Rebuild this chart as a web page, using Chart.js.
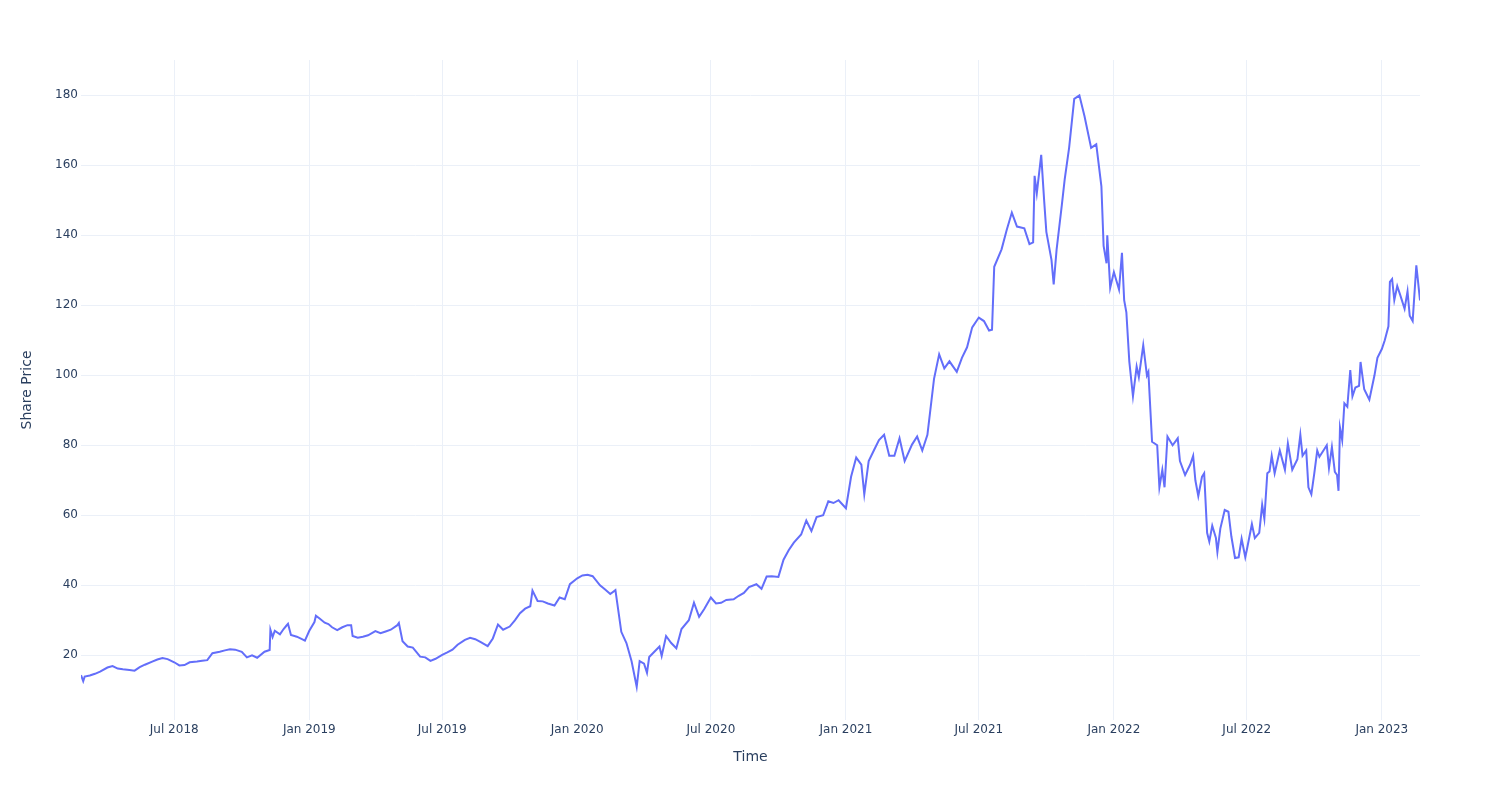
<!DOCTYPE html>
<html>
<head>
<meta charset="utf-8">
<script src="https://cdn.jsdelivr.net/npm/chart.js@4.4.0/dist/chart.umd.min.js"></script>
<style>
  html, body { margin: 0; padding: 0; background: #fff; }
</style>
</head>
<body>
<canvas id="grafico" width="1500" height="800"></canvas>
<script>
// share price, sampled roughly weekly (plus the sharp moves)
const dates = [
  "2018-02-24", "2018-02-27",
  "2018-03-01", "2018-03-08", "2018-03-15", "2018-03-22",
  "2018-04-01", "2018-04-08", "2018-04-15", "2018-04-22",
  "2018-05-01", "2018-05-08", "2018-05-15", "2018-05-22",
  "2018-06-01", "2018-06-08", "2018-06-15", "2018-06-22",
  "2018-07-01", "2018-07-08", "2018-07-15", "2018-07-22",
  "2018-08-01", "2018-08-08", "2018-08-15", "2018-08-22",
  "2018-09-01", "2018-09-08", "2018-09-15", "2018-09-22",
  "2018-10-01", "2018-10-08", "2018-10-15", "2018-10-22",
  "2018-11-01", "2018-11-08", "2018-11-09", "2018-11-12", "2018-11-15", "2018-11-22", "2018-11-27",
  "2018-12-01", "2018-12-03", "2018-12-07", "2018-12-15", "2018-12-22", "2018-12-26",
  "2019-01-01", "2019-01-08", "2019-01-10", "2019-01-15", "2019-01-22", "2019-01-27",
  "2019-02-01", "2019-02-08", "2019-02-15", "2019-02-22", "2019-02-27",
  "2019-03-01", "2019-03-08", "2019-03-15", "2019-03-22",
  "2019-04-01", "2019-04-08", "2019-04-15", "2019-04-22",
  "2019-05-01", "2019-05-03", "2019-05-08", "2019-05-15", "2019-05-22",
  "2019-06-01", "2019-06-08", "2019-06-15", "2019-06-22",
  "2019-07-01", "2019-07-08", "2019-07-15", "2019-07-22",
  "2019-08-01", "2019-08-08", "2019-08-15", "2019-08-22",
  "2019-09-01", "2019-09-08", "2019-09-15", "2019-09-22",
  "2019-10-01", "2019-10-08", "2019-10-15", "2019-10-22", "2019-10-29",
  "2019-11-01", "2019-11-08", "2019-11-15", "2019-11-22",
  "2019-12-01", "2019-12-08", "2019-12-15", "2019-12-22",
  "2020-01-01", "2020-01-08", "2020-01-15", "2020-01-22",
  "2020-02-01", "2020-02-08", "2020-02-15", "2020-02-22",
  "2020-03-01", "2020-03-08", "2020-03-15", "2020-03-22", "2020-03-26",
  "2020-04-01", "2020-04-05", "2020-04-08", "2020-04-15", "2020-04-22", "2020-04-25",
  "2020-05-01", "2020-05-08", "2020-05-15", "2020-05-22",
  "2020-06-01", "2020-06-08", "2020-06-15", "2020-06-22",
  "2020-07-01", "2020-07-08", "2020-07-15", "2020-07-22",
  "2020-08-01", "2020-08-08", "2020-08-15", "2020-08-22",
  "2020-09-01", "2020-09-08", "2020-09-15", "2020-09-22",
  "2020-10-01", "2020-10-08", "2020-10-15", "2020-10-22",
  "2020-11-01", "2020-11-08", "2020-11-15", "2020-11-22",
  "2020-12-01", "2020-12-08", "2020-12-15", "2020-12-22",
  "2021-01-01", "2021-01-08", "2021-01-15", "2021-01-22", "2021-01-26",
  "2021-02-01", "2021-02-08", "2021-02-15", "2021-02-22",
  "2021-03-01", "2021-03-08", "2021-03-15", "2021-03-22",
  "2021-04-01", "2021-04-08", "2021-04-15", "2021-04-22",
  "2021-05-01", "2021-05-08", "2021-05-15", "2021-05-22",
  "2021-06-01", "2021-06-08", "2021-06-15", "2021-06-22",
  "2021-07-01", "2021-07-08", "2021-07-15", "2021-07-19", "2021-07-22",
  "2021-08-01", "2021-08-08", "2021-08-15", "2021-08-22",
  "2021-09-01", "2021-09-08", "2021-09-13", "2021-09-15", "2021-09-18", "2021-09-24", "2021-09-28",
  "2021-10-01", "2021-10-08", "2021-10-11", "2021-10-15", "2021-10-22", "2021-10-26",
  "2021-11-01", "2021-11-08", "2021-11-15", "2021-11-22",
  "2021-12-01", "2021-12-08", "2021-12-15", "2021-12-18", "2021-12-22", "2021-12-23", "2021-12-27",
  "2022-01-01", "2022-01-08", "2022-01-12", "2022-01-15", "2022-01-18", "2022-01-22", "2022-01-27",
  "2022-02-01", "2022-02-04", "2022-02-10", "2022-02-15", "2022-02-17", "2022-02-22",
  "2022-03-01", "2022-03-04", "2022-03-08", "2022-03-11", "2022-03-15", "2022-03-22", "2022-03-29",
  "2022-04-01", "2022-04-08", "2022-04-15", "2022-04-19", "2022-04-22", "2022-04-26",
  "2022-05-01", "2022-05-04", "2022-05-08", "2022-05-11", "2022-05-15", "2022-05-20", "2022-05-22", "2022-05-26",
  "2022-06-01", "2022-06-06", "2022-06-10", "2022-06-15", "2022-06-20", "2022-06-24", "2022-06-29",
  "2022-07-01", "2022-07-08", "2022-07-12", "2022-07-18", "2022-07-22", "2022-07-25", "2022-07-29",
  "2022-08-01", "2022-08-04", "2022-08-08", "2022-08-15", "2022-08-22", "2022-08-26",
  "2022-09-01", "2022-09-08", "2022-09-12", "2022-09-15", "2022-09-20", "2022-09-23", "2022-09-27",
  "2022-10-01", "2022-10-05", "2022-10-08", "2022-10-15", "2022-10-18", "2022-10-21", "2022-10-25", "2022-10-29",
  "2022-11-01", "2022-11-03", "2022-11-05", "2022-11-08", "2022-11-11", "2022-11-15", "2022-11-19", "2022-11-22", "2022-11-26",
  "2022-12-01", "2022-12-03", "2022-12-08", "2022-12-15", "2022-12-22", "2022-12-26",
  "2023-01-01", "2023-01-05", "2023-01-10", "2023-01-12", "2023-01-15", "2023-01-18", "2023-01-22", "2023-01-26",
  "2023-02-01", "2023-02-05", "2023-02-08", "2023-02-12", "2023-02-17", "2023-02-19", "2023-02-22"
];

const price = [
  14.3, 12.6,
  13.9, 14.2, 14.7, 15.3,
  16.5, 16.9, 16.2, 16.0,
  15.8, 15.6, 16.6, 17.3,
  18.2, 18.8, 19.2, 18.9,
  18.0, 17.1, 17.2, 18.0,
  18.2, 18.4, 18.6, 20.6,
  21.0, 21.4, 21.7, 21.6,
  21.0, 19.4, 20.0, 19.3,
  21.0, 21.5, 27.3, 25.2, 27.0, 26.0, 27.5,
  28.5, 29.0, 25.8, 25.3, 24.6, 24.2,
  27.0, 29.5, 31.3, 30.5, 29.3, 28.9,
  28.0, 27.2, 28.0, 28.6, 28.6,
  25.5, 25.0, 25.3, 25.7,
  26.9, 26.3, 26.8, 27.3,
  28.6, 29.2, 24.0, 22.5, 22.2,
  19.6, 19.4, 18.4, 19.0,
  20.1, 20.8, 21.6, 23.0,
  24.4, 25.0, 24.6, 23.8,
  22.6, 24.8, 28.8, 27.3,
  28.2, 30.0, 32.0, 33.3, 34.0,
  38.5, 35.5, 35.4, 34.8,
  34.2, 36.5, 36.0, 40.3,
  42.0, 42.8, 43.0, 42.6,
  40.0, 38.8, 37.5, 38.6,
  26.7, 23.5, 18.3, 11.0, 18.3,
  17.6, 15.0, 19.5, 21.0, 22.5, 19.8,
  25.5, 23.5, 22.0, 27.5,
  30.0, 35.0, 31.0, 33.2,
  36.5, 34.8, 35.0, 35.8,
  36.0, 37.0, 37.8, 39.5,
  40.3, 39.0, 42.5, 42.6,
  42.4, 47.3, 50.0, 52.2,
  54.5, 58.5, 55.5, 59.5,
  60.0, 64.0, 63.5, 64.3,
  62.0, 71.0, 76.5, 74.5, 66.0,
  75.5, 78.5, 81.5, 83.0,
  77.0, 77.0, 82.0, 75.5,
  80.2, 82.5, 78.5, 83.0,
  99.0, 106.0, 102.0, 104.0,
  101.0, 105.0, 108.0, 113.7,
  116.5, 115.5, 112.8, 113.0, 131.0,
  136.0, 141.5, 146.5, 142.5,
  142.0, 137.5, 138.0, 157.0, 152.0, 163.0, 150.0,
  141.0, 133.0, 126.0, 136.0, 148.5, 156.0,
  165.0, 179.0, 180.0, 174.0,
  165.0, 166.0, 154.0, 137.0, 132.0, 140.0, 125.0,
  129.5, 124.5, 135.0, 121.5, 118.0, 104.0, 94.0,
  102.5, 99.5, 108.6, 100.0, 101.0, 81.0,
  80.0, 68.0, 73.0, 68.0, 82.5, 80.0, 82.0,
  75.5, 71.5, 74.5, 77.0, 70.0, 65.5,
  71.0, 72.0, 55.0, 52.5, 57.0, 53.5, 49.5, 56.2,
  61.5, 61.0, 54.0, 47.8, 48.0, 53.3, 48.0,
  50.0, 57.5, 53.5, 55.0, 63.0, 59.0, 72.0,
  72.5, 77.0, 72.0, 78.5, 73.0, 80.5,
  73.0, 76.0, 83.0, 77.0, 78.5, 68.0, 66.0,
  72.0, 78.5, 76.7, 79.0, 80.0, 73.5, 79.5, 72.4,
  71.5, 67.0, 85.0, 81.5, 92.0, 91.0, 101.5, 94.0, 96.5,
  97.0, 103.8, 96.0, 93.0, 100.0, 105.0,
  107.5, 110.0, 114.0, 126.7, 127.5, 121.5, 125.5, 123.0,
  119.0, 124.0, 117.0, 115.5, 131.4, 127.5, 121.4
];

const xTickDates = ["2018-07-01", "2019-01-01", "2019-07-01", "2020-01-01", "2020-07-01",
                    "2021-01-01", "2021-07-01", "2022-01-01", "2022-07-01", "2023-01-01"];
const xTickLabels = ["Jul 2018", "Jan 2019", "Jul 2019", "Jan 2020", "Jul 2020",
                     "Jan 2021", "Jul 2021", "Jan 2022", "Jul 2022", "Jan 2023"];
const yTicks = [20, 40, 60, 80, 100, 120, 140, 160, 180];

document.addEventListener("DOMContentLoaded", function () {
  Chart.defaults.font.family = "DejaVu Sans";
  Chart.defaults.color = "#2a3f5f";

  let points = dates.map((d, i) => ({ x: Date.parse(d), y: price[i] }));
  let ctx = document.getElementById("grafico").getContext("2d");

  new Chart(ctx, {
    type: "line",
    data: {
      datasets: [
        {
          label: "Share Price",
          data: points,
          borderColor: "#636efa",
          borderWidth: 2,
          pointRadius: 0,
          tension: 0,
          fill: false,
        },
      ],
    },
    options: {
      responsive: false,
      animation: false,
      layout: { padding: { top: 60, right: 80, bottom: 0, left: 0 } },
      plugins: {
        legend: { display: false },
        tooltip: { enabled: false },
      },
      scales: {
        x: {
          type: "linear",
          min: Date.parse(dates[0]),
          max: Date.parse(dates[dates.length - 1]),
          afterBuildTicks: (s) => {
            s.ticks = xTickDates.map((d) => ({ value: Date.parse(d) }));
          },
          afterFit: (s) => {
            s.height = 80;
          },
          grid: { color: "#ebf0f8", drawTicks: false },
          border: { display: false },
          ticks: {
            padding: 3,
            maxRotation: 0,
            autoSkip: false,
            font: { size: 12 },
            callback: (v, i) => xTickLabels[i],
          },
          title: {
            display: true,
            text: "Time",
            font: { size: 14 },
            padding: { top: 0, bottom: 34 },
          },
        },
        y: {
          type: "linear",
          min: 1.5,
          max: 190.1,
          afterBuildTicks: (s) => {
            s.ticks = yTicks.map((v) => ({ value: v }));
          },
          afterFit: (s) => {
            s.width = 81;
          },
          grid: { color: "#ebf0f8", drawTicks: false },
          border: { display: false },
          ticks: {
            padding: 3,
            font: { size: 12 },
            callback: (v) => String(v),
          },
          title: {
            display: true,
            text: "Share Price",
            font: { size: 14 },
            padding: { top: 19, bottom: 0 },
          },
        },
      },
    },
  });
});
</script>
</body>
</html>
